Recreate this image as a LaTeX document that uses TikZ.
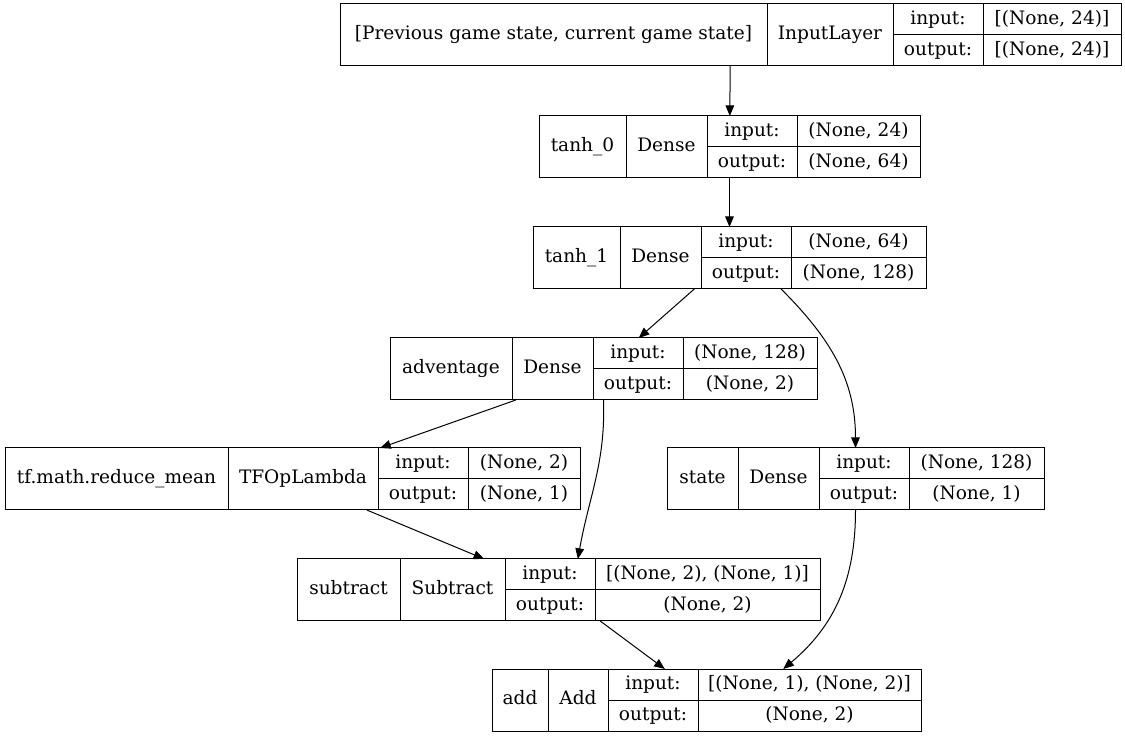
\documentclass[tikz,border=0pt]{standalone}
\usepackage{fontspec}
\setmainfont{DejaVu Serif}
\usetikzlibrary{arrows.meta}

\tikzset{
  layerbox/.style={draw, rectangle, inner sep=0, outer sep=0, anchor=north west, minimum height=46.5pt},
  cell/.style={inner sep=0, text height=0.77em, text depth=0.08em},
  flow/.style={-{Triangle[length=8pt,width=6.5pt]}, line width=0.75pt},
}

% #1 node, #2 top left, #3 name width, #4 class width, #5 shape width,
% #6 layer name, #7 class, #8 input shape, #9 output shape
\newcommand\layer[9]{%
  \begin{scope}[shift={#2}]
    \node[layerbox, minimum width={(#3+#4+90+#5)*0.75pt}] (#1) at (0,0) {};
    \draw (#3,0) -- ++(0,62) (#3+#4,0) -- ++(0,62) (#3+#4+90,0) -- ++(0,62)
          (#3+#4,31) -- ++(90+#5,0);
    \node[cell] (#1-name) at (#3/2,31) {#6};
    \node[cell] (#1-class) at (#3+#4/2,31) {#7};
    \node[cell] (#1-inl) at (#3+#4+45,15.5) {input:};
    \node[cell] (#1-outl) at (#3+#4+45,46.5) {output:};
    \node[cell] (#1-in) at (#3+#4+90+#5/2,15.5) {#8};
    \node[cell] (#1-out) at (#3+#4+90+#5/2,46.5) {#9};
  \end{scope}}

\begin{document}
\begin{tikzpicture}[x=0.75pt, y=-0.75pt, line width=0.75pt,
    font=\fontsize{13.9pt}{16pt}\selectfont]
  \useasboundingbox (0,0) rectangle (1125,737);

  \layer{input}{(340,4)}{427}{126}{138}{[Previous game state, current game state]}{InputLayer}{[(None, 24)]}{[(None, 24)]}
  \layer{tanh0}{(539,116)}{87}{81}{123}{tanh\_0}{Dense}{(None, 24)}{(None, 64)}
  \layer{tanh1}{(533,227)}{87}{81}{135}{tanh\_1}{Dense}{(None, 64)}{(None, 128)}
  \layer{adv}{(390,338)}{122}{81}{134}{adventage}{Dense}{(None, 128)}{(None, 2)}
  \layer{mean}{(5,448)}{223}{150}{112}{tf.math.reduce\_mean}{TFOpLambda}{(None, 2)}{(None, 1)}
  \layer{state}{(667,448)}{71}{81}{135}{state}{Dense}{(None, 128)}{(None, 1)}
  \layer{subtract}{(297,559)}{103}{105}{225}{subtract}{Subtract}{[(None, 2), (None, 1)]}{(None, 2)}
  \layer{add}{(492,669)}{56}{60}{223}{add}{Add}{[(None, 1), (None, 2)]}{(None, 2)}

  \draw[flow] (input) -- (tanh0);
  \draw[flow] (tanh0) -- (tanh1);
  \draw[flow] (tanh1) -- (adv);
  \draw[flow] (tanh1.-31.5) to[out=-45,in=90] (state);
  \draw[flow] (adv) -- (mean);
  \draw[flow] (adv.south) to[out=-88,in=80] (subtract.58.8);
  \draw[flow] (mean) -- (subtract);
  \draw[flow] (state.south) to[out=-90,in=40] (add.22.9);
  \draw[flow] (subtract) -- (add);
\end{tikzpicture}
\end{document}
